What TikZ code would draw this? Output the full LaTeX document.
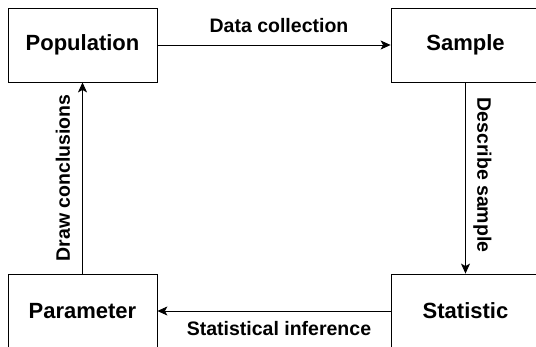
\documentclass[tikz,border=0pt]{standalone}
\usepackage{fontspec}
\setmainfont{Liberation Sans}
\usetikzlibrary{arrows.meta}

\tikzset{
  stufe/.style={draw, line width=0.8pt, minimum width=149pt, minimum height=74pt,
    inner sep=0pt, font=\fontsize{22}{26}\selectfont\bfseries},
  beschr/.style={inner sep=0pt, font=\fontsize{19.5}{23}\selectfont\bfseries},
  pfeil/.style={-{Stealth[length=10pt,width=9pt,inset=2.5pt]}, line width=0.8pt}
}

\begin{document}
\begin{tikzpicture}[x=1pt,y=-1pt]
		\clip (0,0) rectangle (536,347);
		% Knoten
		\node (Pop) at (82.5,45) [stufe] {Population};
		\node (Smp) at (465.5,45) [stufe] {Sample};
		\node (Par) at (82.5,311) [stufe] {Parameter};
		\node (Sta) at (465.5,311) [stufe] {Statistic};

		% Kanten
		\draw[pfeil] (Pop) to node[beschr, midway, xshift=5pt, yshift=19pt] {Data collection} (Smp);
		\draw[pfeil] (Smp) to node[beschr, midway, rotate=-90, xshift=-3pt, yshift=17pt] {Describe sample} (Sta);
		\draw[pfeil] (Sta) to node[beschr, midway, xshift=5pt, yshift=-17.5pt] {Statistical inference} (Par);
		\draw[pfeil] (Par) to node[beschr, midway, rotate=90, yshift=19.5pt] {Draw conclusions} (Pop);
	\end{tikzpicture}
\end{document}
